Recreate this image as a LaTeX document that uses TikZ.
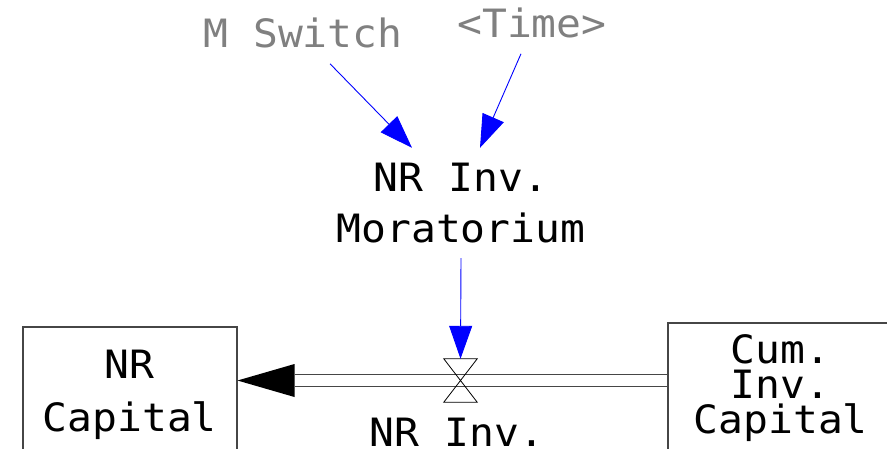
\documentclass[tikz,border=0pt]{standalone}
\usepackage{fontspec}
\newfontfamily\vmono[FakeStretch=1.06]{DejaVu Sans Mono}
\usetikzlibrary{arrows.meta,calc}
\definecolor{vgray}{RGB}{128,128,128}
\definecolor{vline}{RGB}{70,70,70}
\tikzset{
  vtxt/.style={font={\vmono\fontsize{39}{51}\selectfont}, align=center, inner sep=0pt},
  stockbox/.style={draw=vline, line width=1.5pt, inner sep=0pt, anchor=north west, align=center},
  link/.style={blue, line width=0.9pt, -{Triangle[length=33pt,width=23pt]}},
  pipe/.style={draw=vline, line width=1.4pt, double=white, double distance=10.5pt},
  valvestyle/.style={draw=none, inner sep=0pt, minimum width=33pt, minimum height=43pt},
}
\begin{document}
\begin{tikzpicture}[x=1pt,y=-1pt]
\useasboundingbox (0,0) rectangle (887,448);
\clip (0,0) rectangle (887,448);
% stocks
\node[stockbox, minimum width=214pt, minimum height=136pt,
      font={\vmono\fontsize{39}{53}\selectfont}] (nrcap) at (22,326) {NR\\Capital};
\node[stockbox, minimum width=226pt, minimum height=131pt,
      font={\vmono\fontsize{39}{35}\selectfont}] (cum) at (667,322) {Cum.\\Inv.\\Capital};
% valve
\node[valvestyle] (valve) at (460.5,380.5) {};
% auxiliaries
\node[vtxt, inner sep=15pt] (morat) at (461,203) {NR Inv.\\Moratorium};
\node[vtxt, text=vgray, anchor=base, inner sep=0pt] (msw) at (303,47) {M Switch};
\node[vtxt, text=vgray, anchor=base, inner sep=0pt] (time) at (532,37) {<Time>};
\node[vtxt, anchor=base] (flowlbl) at (457,446) {NR Inv.};
% pipe
\coordinate (pipeend) at ($(nrcap.east |- valve)+(57,0)$);
\draw[pipe] (cum.west |- valve) -- (pipeend);
\fill[black] (nrcap.east |- valve) -- ($(pipeend)+(0,-16.5)$) -- ($(pipeend)+(0,16.5)$) -- cycle;
\draw[black, line width=0.8pt] (valve.north west) -- (valve.north east) -- (valve.south west) -- (valve.south east) -- cycle;
% links
\draw[link] ([xshift=27pt,yshift=-16pt]msw.south) -- ([xshift=-49pt]morat.north);
\draw[link] ([xshift=-11pt,yshift=-16pt]time.south) -- ([xshift=19pt]morat.north);
\draw[link] (morat.south) -- (valve.north);
\end{tikzpicture}
\end{document}
